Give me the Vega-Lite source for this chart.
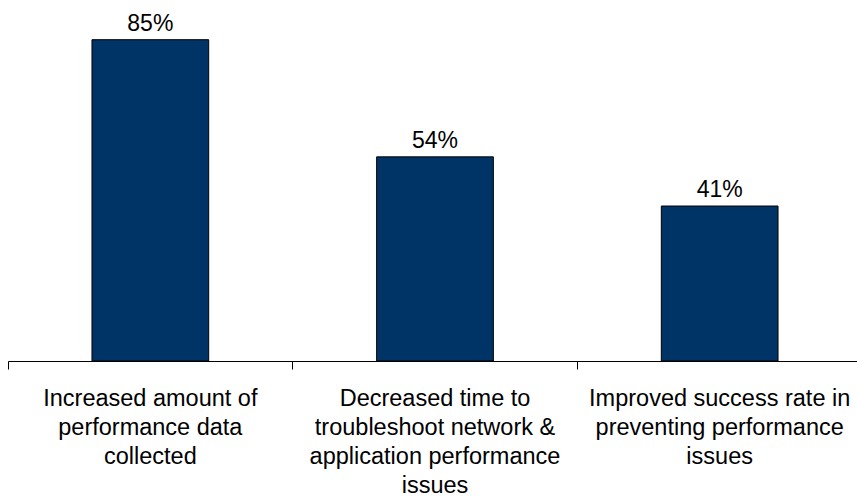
{
  "$schema": "https://vega.github.io/schema/vega-lite/v6.json",
  "autosize": "none",
  "padding": {"left": 8, "top": 0, "right": 0, "bottom": 139},
  "width": 854,
  "height": 361,
  "background": "white",
  "data": {
    "values": [
      {"category": "Increased amount of|performance data|collected", "value": 85, "label": "85%"},
      {"category": "Decreased time to|troubleshoot network &|application performance|issues", "value": 54, "label": "54%"},
      {"category": "Improved success rate in|preventing performance|issues", "value": 41, "label": "41%"}
    ]
  },
  "encoding": {
    "x": {
      "field": "category",
      "type": "nominal",
      "sort": null,
      "scale": {"paddingInner": 0, "paddingOuter": 0},
      "axis": {
        "title": null,
        "labelAngle": 0,
        "labelExpr": "split(datum.label, '|')",
        "labelFont": "Liberation Sans",
        "labelFontSize": 23.5,
        "labelColor": "#000000",
        "labelLineHeight": 29,
        "labelBaseline": "top",
        "labelPadding": 17,
        "labelLimit": 0,
        "bandPosition": 0,
        "tickSize": 8,
        "tickColor": "#000000",
        "domainColor": "#000000",
        "ticks": true,
        "grid": false
      }
    },
    "y": {
      "field": "value",
      "type": "quantitative",
      "scale": {"domain": [0, 95.5], "nice": false},
      "axis": null
    }
  },
  "layer": [
    {
      "mark": {"type": "bar", "width": {"band": 0.41}, "color": "#003366", "stroke": "#000000", "strokeWidth": 1}
    },
    {
      "mark": {"type": "text", "font": "Liberation Sans", "fontSize": 23, "color": "#000000", "baseline": "alphabetic", "dy": -9},
      "encoding": {"text": {"field": "label"}}
    }
  ],
  "config": {"view": {"stroke": null}}
}
